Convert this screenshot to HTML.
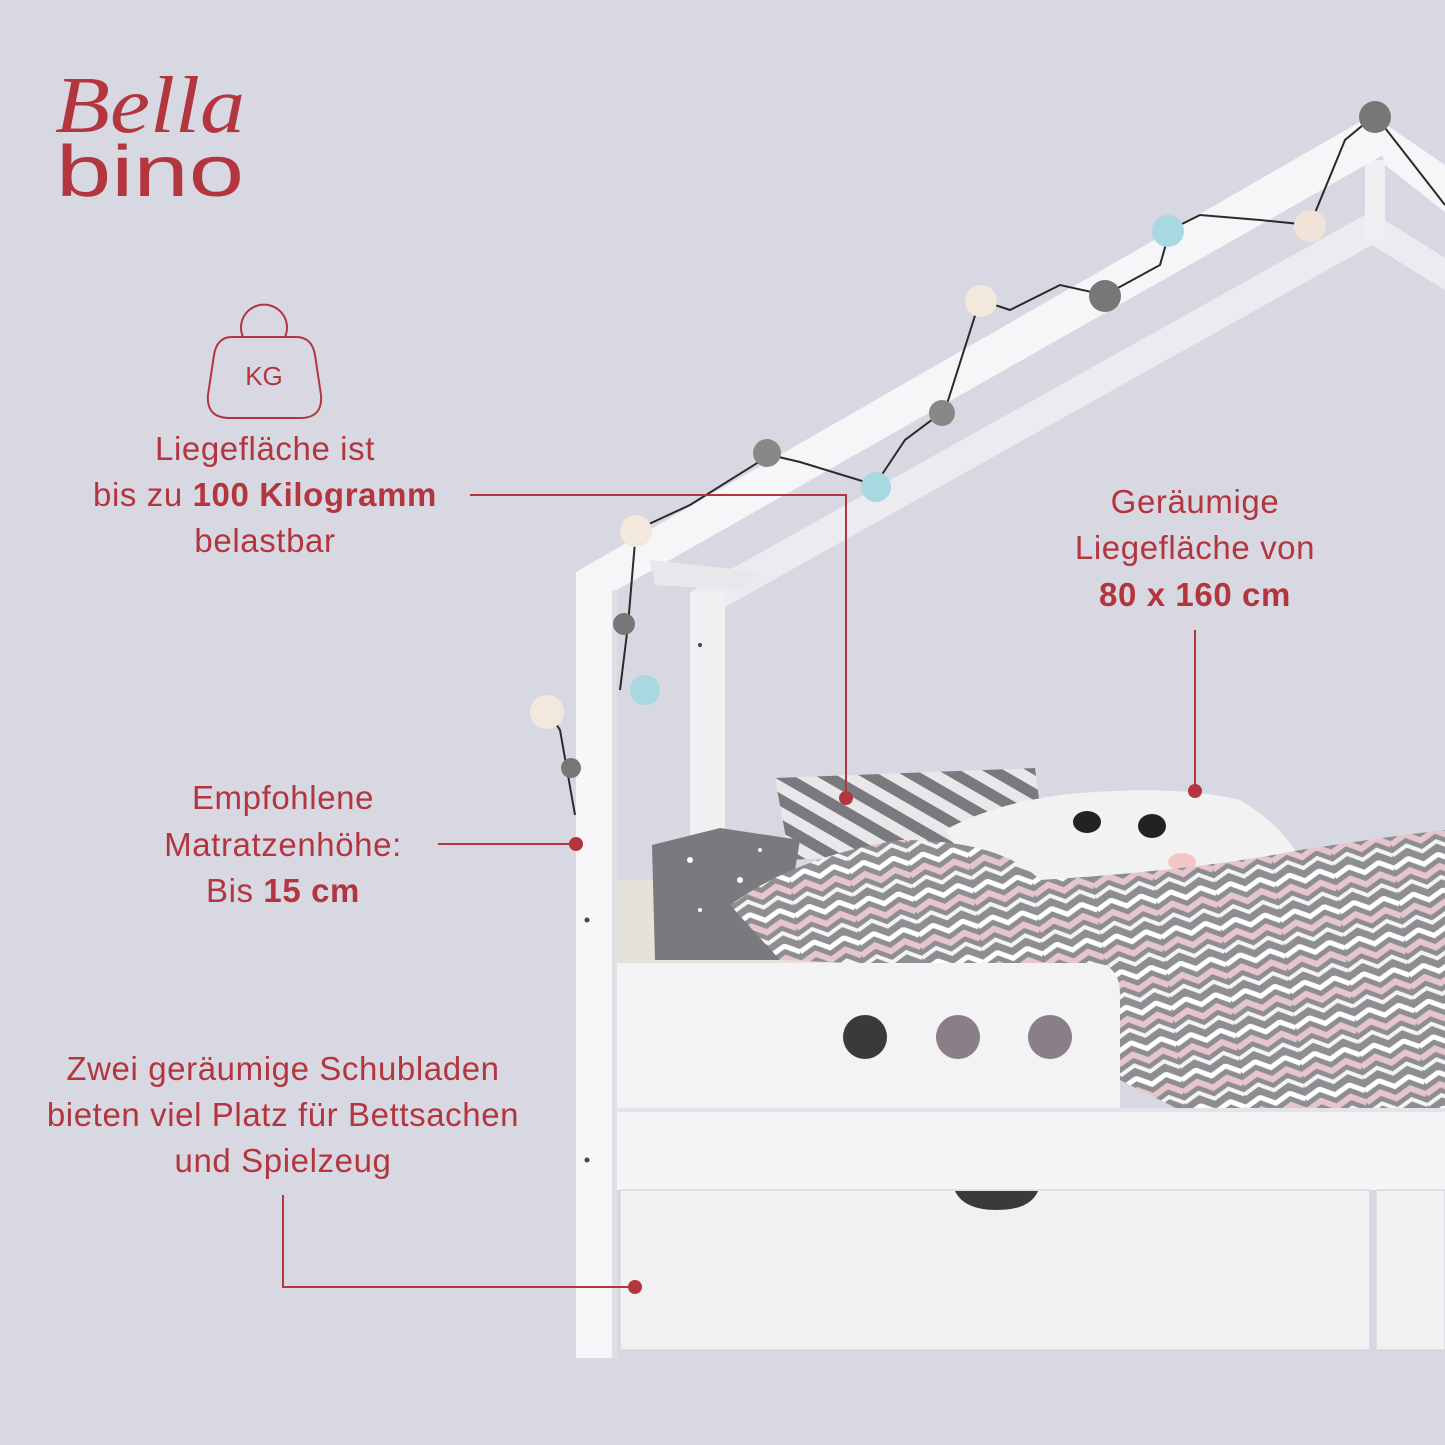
<!DOCTYPE html>
<html><head><meta charset="utf-8">
<style>
html,body{margin:0;padding:0;background:#d8d8e2;}
svg{display:block}
text{font-family:"Liberation Sans","DejaVu Sans",sans-serif;fill:#b3363f}
</style></head>
<body>
<svg width="1445" height="1445" viewBox="0 0 1445 1445" xmlns="http://www.w3.org/2000/svg">
<defs>
<pattern id="zz" width="60" height="36" patternUnits="userSpaceOnUse" patternTransform="rotate(-8)">
<rect width="60" height="36" fill="#8e8e92"/>
<path d="M0 10 L15 2 L30 10 L45 2 L60 10" stroke="#fff" stroke-width="5" fill="none"/>
<path d="M0 22 L15 14 L30 22 L45 14 L60 22" stroke="#e6c6cc" stroke-width="6" fill="none"/>
<path d="M0 33 L15 25 L30 33 L45 25 L60 33" stroke="#f4f4f4" stroke-width="4" fill="none"/>
</pattern>
<pattern id="st" width="22" height="22" patternUnits="userSpaceOnUse" patternTransform="rotate(-60)">
<rect width="22" height="22" fill="#e8e8ea"/><rect width="11" height="22" fill="#7a7a7e"/>
</pattern>
</defs>
<rect width="1445" height="1445" fill="#d8d8e2"/>

<text x="55" y="132" font-size="80" textLength="190" lengthAdjust="spacingAndGlyphs" style="font-family:'Liberation Serif',serif;font-style:italic;fill:#b3363f">Bella</text>
<text x="56" y="196" font-size="72" textLength="188" lengthAdjust="spacingAndGlyphs" style="font-weight:normal;fill:#b3363f">bino</text>

<g fill="none" stroke="#b3363f" stroke-width="2">
<path d="M243 337 A23 23 0 1 1 285 337"/>
<path d="M232 337 L296 337 Q312 337 315 355 L321 395 Q323 418 300 418 L230 418 Q206 418 208 395 L214 355 Q217 337 232 337 Z"/>
</g>
<text x="264" y="385" font-size="26" text-anchor="middle">KG</text>

<polygon points="690,592 1370,212 1372,245 725,607" fill="#ececf0"/>
<polygon points="1372,212 1445,258 1445,290 1372,245" fill="#ececf0"/>
<rect x="690" y="592" width="35" height="250" fill="#f0f0f3"/>
<rect x="1365" y="160" width="20" height="80" fill="#f0f0f3"/>
<polygon points="576,572 1372,115 1392,150 617,590" fill="#f6f6f8"/>
<polygon points="1372,115 1445,165 1445,212 1385,165" fill="#f6f6f8"/>
<polygon points="650,560 760,572 740,590 655,585" fill="#e8e8ec"/>

<rect x="617" y="880" width="828" height="90" fill="#e6e2da"/>
<polygon points="775,778 1035,768 1045,845 790,860" fill="url(#st)"/>
<polygon points="652,845 720,828 800,840 780,960 655,960" fill="#7a7a7e"/>
<g fill="#fff"><circle cx="690" cy="860" r="3"/><circle cx="740" cy="880" r="3"/><circle cx="700" cy="910" r="2"/><circle cx="760" cy="850" r="2"/></g>
<path d="M945 830 Q1000 800 1080 793 Q1180 785 1240 800 Q1290 830 1305 870 L980 885 Z" fill="#f2f2f2"/>
<ellipse cx="1087" cy="822" rx="14" ry="11" fill="#222"/>
<ellipse cx="1152" cy="826" rx="14" ry="12" fill="#222"/>
<ellipse cx="1182" cy="862" rx="14" ry="9" fill="#f3c6c6"/>
<path d="M730 905 Q800 855 900 840 Q1000 840 1040 880 Q1200 870 1300 850 Q1400 835 1445 830 L1445 1175 Q1300 1150 1200 1120 L1120 1080 L1110 965 L900 965 L780 960 Z" fill="url(#zz)"/>

<path d="M617 963 L1095 963 Q1120 965 1120 995 L1120 1108 L617 1108 Z" fill="#f3f3f5"/>
<circle cx="865" cy="1037" r="22" fill="#3a3a3c"/>
<circle cx="958" cy="1037" r="22" fill="#8a7f86"/>
<circle cx="1050" cy="1037" r="22" fill="#8a7f86"/>
<rect x="617" y="1108" width="828" height="82" fill="#f5f5f7"/>
<rect x="617" y="1108" width="828" height="4" fill="#e4e4e8"/>
<rect x="620" y="1190" width="750" height="160" fill="#f1f1f3" stroke="#cfcfd4"/>
<rect x="1376" y="1190" width="69" height="160" fill="#f1f1f3" stroke="#cfcfd4"/>
<path d="M955 1191 L1038 1191 Q1030 1210 997 1210 Q964 1210 955 1191 Z" fill="#3a3a3c"/>
<rect x="576" y="572" width="41" height="786" fill="#f7f7f9"/>
<rect x="612" y="590" width="5" height="768" fill="#e0e0e4"/>
<circle cx="587" cy="920" r="2.5" fill="#444"/><circle cx="587" cy="1160" r="2.5" fill="#444"/>
<circle cx="700" cy="645" r="2" fill="#444"/>

<path d="M575 815 L560 730 L548 712 M620 690 L628 625 L636 530 L690 505 L770 455 L800 462 L875 485 L905 440 L945 410 L980 300 L1010 310 L1060 285 L1105 295 L1160 265 L1170 230 L1200 215 L1260 220 L1310 225 L1345 140 L1375 115 L1445 205" stroke="#2a2a2a" stroke-width="2" fill="none"/>
<g>
<circle cx="547" cy="712" r="17" fill="#f2e8dc"/>
<circle cx="571" cy="768" r="10" fill="#777"/>
<circle cx="624" cy="624" r="11" fill="#777"/>
<circle cx="645" cy="690" r="15" fill="#a8d8e0"/>
<circle cx="636" cy="531" r="16" fill="#f2e8dc"/>
<circle cx="767" cy="453" r="14" fill="#888"/>
<circle cx="876" cy="487" r="15" fill="#a8d8e0"/>
<circle cx="942" cy="413" r="13" fill="#888"/>
<circle cx="981" cy="301" r="16" fill="#f2e8dc"/>
<circle cx="1105" cy="296" r="16" fill="#777"/>
<circle cx="1168" cy="231" r="16" fill="#a8d8e0"/>
<circle cx="1310" cy="226" r="16" fill="#f2e3d8"/>
<circle cx="1375" cy="117" r="16" fill="#777"/>
</g>

<g font-size="33" text-anchor="middle" letter-spacing="0.6">
<text x="265" y="460">Liegefläche ist</text>
<text x="265" y="506">bis zu <tspan font-weight="bold">100 Kilogramm</tspan></text>
<text x="265" y="552">belastbar</text>
<text x="1195" y="513">Geräumige</text>
<text x="1195" y="559">Liegefläche von</text>
<text x="1195" y="606" font-weight="bold">80 x 160 cm</text>
<text x="283" y="809">Empfohlene</text>
<text x="283" y="856">Matratzenhöhe:</text>
<text x="283" y="902">Bis <tspan font-weight="bold">15 cm</tspan></text>
<text x="283" y="1080">Zwei geräumige Schubladen</text>
<text x="283" y="1126">bieten viel Platz für Bettsachen</text>
<text x="283" y="1172">und Spielzeug</text>
</g>
<g stroke="#b3363f" stroke-width="2" fill="none">
<path d="M470 495 L846 495 L846 798"/>
<path d="M1195 630 L1195 790"/>
<path d="M438 844 L576 844"/>
<path d="M283 1195 L283 1287 L635 1287"/>
</g>
<g fill="#b3363f">
<circle cx="846" cy="798" r="7"/><circle cx="1195" cy="791" r="7"/>
<circle cx="576" cy="844" r="7"/><circle cx="635" cy="1287" r="7"/>
</g>
</svg>
</body></html>
